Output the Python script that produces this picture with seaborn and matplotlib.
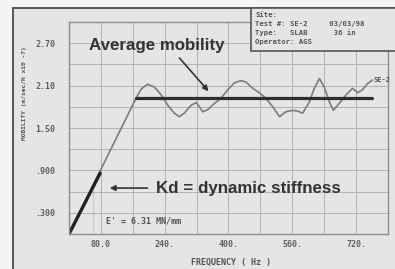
import matplotlib
matplotlib.use("Agg")
import matplotlib.pyplot as plt
from matplotlib.patches import Rectangle
import seaborn as sns

# mobility curve (Hz, m/sec/N x10^-7)
freq = [0, 168, 181, 197, 214, 231, 248, 264, 277, 289, 306, 319, 327, 335,
        348, 365, 381, 398, 415, 431, 444, 461, 477, 494, 511, 528, 544, 561,
        573, 586, 603, 615, 628, 640, 653, 663, 678, 695, 711, 724, 736, 749,
        761]
mobility = [0, 1.92, 2.05, 2.12, 2.08, 1.97, 1.82, 1.71, 1.66, 1.71, 1.82,
            1.86, 1.80, 1.73, 1.76, 1.85, 1.92, 2.04, 2.14, 2.17, 2.15, 2.06,
            2.00, 1.92, 1.80, 1.66, 1.73, 1.75, 1.74, 1.71, 1.87, 2.06, 2.20,
            2.08, 1.87, 1.75, 1.85, 1.97, 2.06, 2.00, 2.04, 2.13, 2.18]

avg_freq = [168, 761]
avg_mobility = [1.93, 1.93]

kd_freq = [0, 78]
kd_mobility = [0, 0.86]

marker_freq = [60, 60]
marker_mobility = [0, 0.62]

xtick_pos = [0, 80, 160, 240, 320, 400, 480, 560, 640, 720, 800]
xtick_labels = ["", "80.0", "", "240.", "", "400.", "", "560.", "", "720.", ""]
ytick_pos = [0, 0.3, 0.6, 0.9, 1.2, 1.5, 1.8, 2.1, 2.4, 2.7, 3.0]
ytick_labels = ["", ".300", "", ".900", "", "1.50", "", "2.10", "", "2.70", ""]

info_lines = ["Site:",
              "Test #: SE-2     03/03/98",
              "Type:   SLAB      36 in",
              "Operator: AGS"]

bg = "#e5e5e7"
sns.set_theme(style="whitegrid", rc={"axes.facecolor": bg, "grid.color": "#b2b2b4"})

W, H = 395, 269
fig = plt.figure(figsize=(W / 100, H / 100), dpi=100)
fig.patch.set_facecolor("#f4f4f4")
# outer panel, kept behind the axes
fig.add_artist(Rectangle((13 / W, -0.01), 1, (H - 8) / H + 0.01,
                         transform=fig.transFigure, facecolor=bg,
                         edgecolor="#555555", linewidth=1.4, zorder=-1))

ax = fig.add_axes([69 / W, 35 / H, 319 / W, 212 / H])

sns.lineplot(x=freq, y=mobility, ax=ax, color="#7c7c7c", linewidth=1.2,
             estimator=None, sort=False)
sns.lineplot(x=avg_freq, y=avg_mobility, ax=ax, color="#2e2e2e", linewidth=2.3)
sns.lineplot(x=kd_freq, y=kd_mobility, ax=ax, color="#222222", linewidth=2.4)
sns.lineplot(x=marker_freq, y=marker_mobility, ax=ax, color="#666666", linewidth=0.8)

ax.set_xlim(0, 800)
ax.set_ylim(0, 3.0)
ax.set_xticks(xtick_pos)
ax.set_xticklabels(xtick_labels)
ax.set_yticks(ytick_pos)
ax.set_yticklabels(ytick_labels)
ax.grid(True, color="#b2b2b4", linewidth=0.7)
for s in ax.spines.values():
    s.set_color("#8e8e8e")
    s.set_linewidth(1.0)
ax.tick_params(axis="both", length=0, colors="#606060")
ax.tick_params(axis="y", pad=10)
ax.tick_params(axis="x", pad=4)
for lbl in ax.get_xticklabels() + ax.get_yticklabels():
    lbl.set_family("DejaVu Sans Mono")
    lbl.set_fontweight("bold")
    lbl.set_fontsize(6)
ax.set_xlabel("")
ax.set_ylabel("")

mono = dict(family="DejaVu Sans Mono", fontweight="bold", color="#555555")
fig.text(231 / W, 1 - 262 / H, "FREQUENCY ( Hz )", ha="center", va="center",
         fontsize=6, **mono)
fig.text(25 / W, 1 - 93 / H, "MOBILITY (m/sec/N x10 -7)", ha="center",
         va="center", rotation=90, fontsize=4.5, **mono)

ax.text(94, 0.18, "E' = 6.31 MN/mm", fontsize=6, va="center", **mono)
ax.text(764, 2.18, "SE-2", fontsize=5, va="center", **mono)

big = dict(family="Liberation Sans", fontweight="bold", color="#333333", fontsize=12.2)
ax.text(51, 2.67, "Average mobility", va="center", **big)
ax.annotate("", xy=(350, 2.02), xytext=(277, 2.49),
            arrowprops=dict(arrowstyle="-|>", color="#333333", lw=1.2,
                            mutation_scale=8, shrinkA=0, shrinkB=0))
ax.text(219, 0.65, "Kd = dynamic stiffness", va="center", **big)
ax.annotate("", xy=(102, 0.65), xytext=(197, 0.65),
            arrowprops=dict(arrowstyle="-|>", color="#333333", lw=1.2,
                            mutation_scale=8, shrinkA=0, shrinkB=0))

# info box in the top right corner, drawn over the plot
fig.add_artist(Rectangle((251 / W, 1 - 51 / H), 1, 43 / H,
                         transform=fig.transFigure, facecolor=bg,
                         edgecolor="#555555", linewidth=1.2, zorder=5))
for i, line in enumerate(info_lines):
    fig.text(255 / W, 1 - (15 + 9 * i) / H, line, fontsize=5.2, va="center",
             zorder=6, **mono)

fig.savefig("out.png", dpi=100, facecolor=fig.get_facecolor())
